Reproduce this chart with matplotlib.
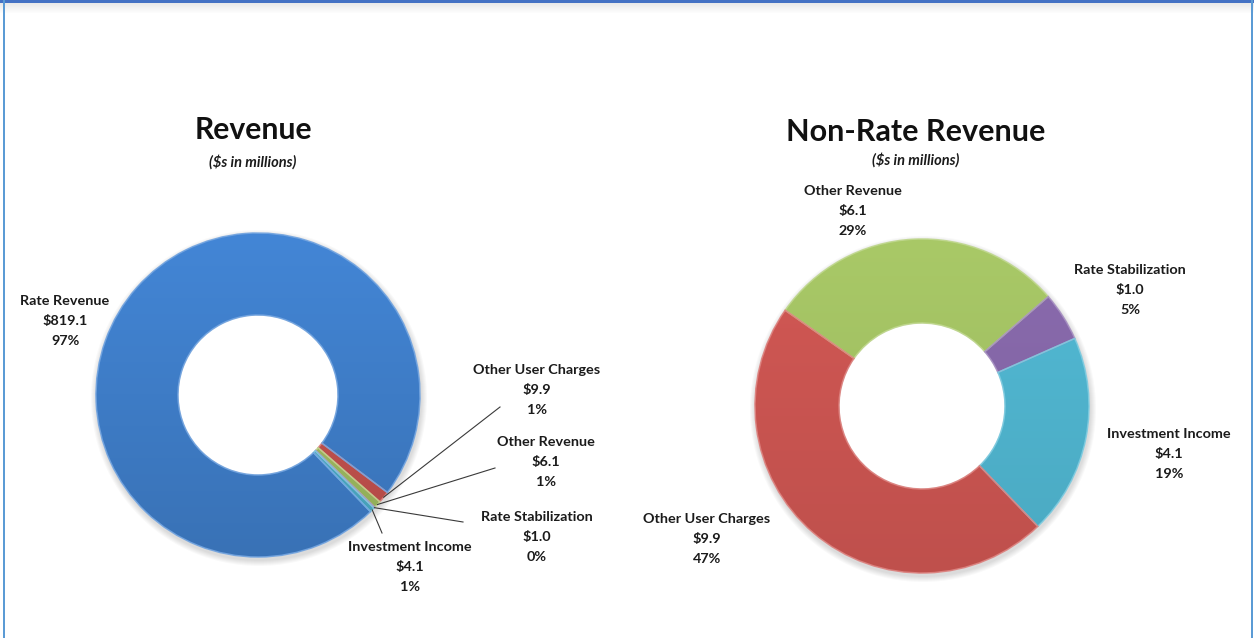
import numpy as np
import matplotlib
matplotlib.use("Agg")
import matplotlib.pyplot as plt
from matplotlib.colors import to_rgb

W, H = 1254, 638

# Total revenue ($ millions)
rev_labels = ["Other User Charges", "Other Revenue", "Rate Stabilization",
              "Investment Income", "Rate Revenue"]
rev_values = [9.9, 6.1, 1.0, 4.1, 819.1]
rev_pcts = ["1%", "1%", "0%", "1%", "97%"]
rev_colors = ["#D05753", "#A8C966", "#8A6BAE", "#50B9D4", "#4386D6"]

# Non-rate revenue ($ millions)
nr_labels = ["Other Revenue", "Rate Stabilization", "Investment Income",
             "Other User Charges"]
nr_values = [6.1, 1.0, 4.1, 9.9]
nr_pcts = ["29%", "5%", "19%", "47%"]
nr_colors = ["#A9C967", "#8A6BAE", "#52BAD5", "#D25854"]

FONT = "Lato"
TXT = "#1b1b1b"

fig = plt.figure(figsize=(W / 100, H / 100), dpi=100)
ax = fig.add_axes([0, 0, 1, 1])


def yy(py):
    """Convert a top-down pixel row to the axes' y coordinate."""
    return H - py


def shade(col, amt):
    c = np.array(to_rgb(col))
    if amt >= 0:
        return c + (1 - c) * amt
    return c * (1 + amt)


def donut(cx, cy, r, r_in, values, colors, start, dark=0.12):
    Y = yy(cy)
    # soft drop shadow under the ring
    for k in range(6):
        ax.add_patch(plt.Circle((cx + 1, Y - 3), r + 1 + k, color="#000000",
                                alpha=0.025, zorder=1, lw=0))
    ax.add_patch(plt.Circle((cx, Y), r_in - 0.5, color="white", zorder=1.5, lw=0))
    wedges, _ = ax.pie(values, colors=colors, startangle=start, counterclock=False,
                       radius=r, center=(cx, Y), frame=True,
                       wedgeprops=dict(width=r - r_in, linewidth=1.1))
    grad = np.linspace(0, 1, 256)[:, None, None]
    for w, col in zip(wedges, colors):
        top, bot = shade(col, 0.0), shade(col, -dark)
        img = top[None, None, :] * (1 - grad) + bot[None, None, :] * grad
        im = ax.imshow(img, extent=(cx - r, cx + r, Y - r, Y + r), origin="upper",
                       aspect="auto", zorder=2, interpolation="bilinear")
        im.set_clip_path(w)
        w.set_facecolor("none")
        w.set_edgecolor((*shade(col, 0.25), 0.9))
        w.set_zorder(3)
    return wedges


def label(px, py, name, value, pct):
    ax.text(px, yy(py), f"{name}\n${value:.1f}\n{pct}", ha="center", va="center",
            multialignment="center", fontsize=10.4, fontweight="bold",
            family=FONT, color=TXT, linespacing=1.78, zorder=5)


# ---- Revenue donut ----
rc = (258, 395)
rw = donut(rc[0], rc[1], 162, 80, rev_values, rev_colors, -37, dark=0.15)
rev_text_pos = [(537, 390), (546, 462), (537, 537), (410, 567), (65, 321)]
rev_leader_end = [(500, 407), (495, 468), (463, 522), (382, 533), None]
for w, name, v, p, tp, le in zip(rw, rev_labels, rev_values, rev_pcts,
                                 rev_text_pos, rev_leader_end):
    label(tp[0], tp[1], name, v, p)
    if le is not None:
        mid = np.deg2rad((w.theta1 + w.theta2) / 2)
        sx = rc[0] + 162 * np.cos(mid)
        sy = yy(rc[1]) + 162 * np.sin(mid)
        ax.plot([sx, le[0]], [sy, yy(le[1])], color="#3a3a3a", lw=0.8, zorder=4)

# ---- Non-rate revenue donut ----
nc = (922, 406)
nw = donut(nc[0], nc[1], 167, 83, nr_values, nr_colors, 145, dark=0.09)
nr_text_pos = [(853, 211), (1130, 290), (1169, 454), (707, 539)]
for name, v, p, tp in zip(nr_labels, nr_values, nr_pcts, nr_text_pos):
    label(tp[0], tp[1], name, v, p)

# ---- titles ----
ax.text(253, yy(130), "Revenue", ha="center", va="center", fontsize=21.7,
        fontweight="bold", family=FONT, color="#111111")
ax.text(253, yy(162), "($s in millions)", ha="center", va="center", fontsize=10.5,
        style="italic", fontweight="bold", family=FONT, color=TXT)
ax.text(916, yy(132), "Non-Rate Revenue", ha="center", va="center", fontsize=22,
        fontweight="bold", family=FONT, color="#111111")
ax.text(916, yy(160), "($s in millions)", ha="center", va="center", fontsize=10.5,
        style="italic", fontweight="bold", family=FONT, color=TXT)

# ---- frame: blue edges with a soft shadow under the top bar ----
for k in range(10):
    a = 0.16 * (1 - k / 10)
    ax.axhspan(yy(3 + k + 1), yy(3 + k), color="#7a7a7a", alpha=a, lw=0, zorder=6)
ax.axhspan(yy(3), yy(0), color="#4472C4", lw=0, zorder=7)
ax.axvspan(2.5, 4.5, color="#5B9BD5", lw=0, zorder=7)
ax.axvspan(1251, 1253, color="#5B9BD5", lw=0, zorder=7)

ax.set_xlim(0, W)
ax.set_ylim(0, H)
ax.axis("off")

fig.savefig("out.png", dpi=100, facecolor="white")
